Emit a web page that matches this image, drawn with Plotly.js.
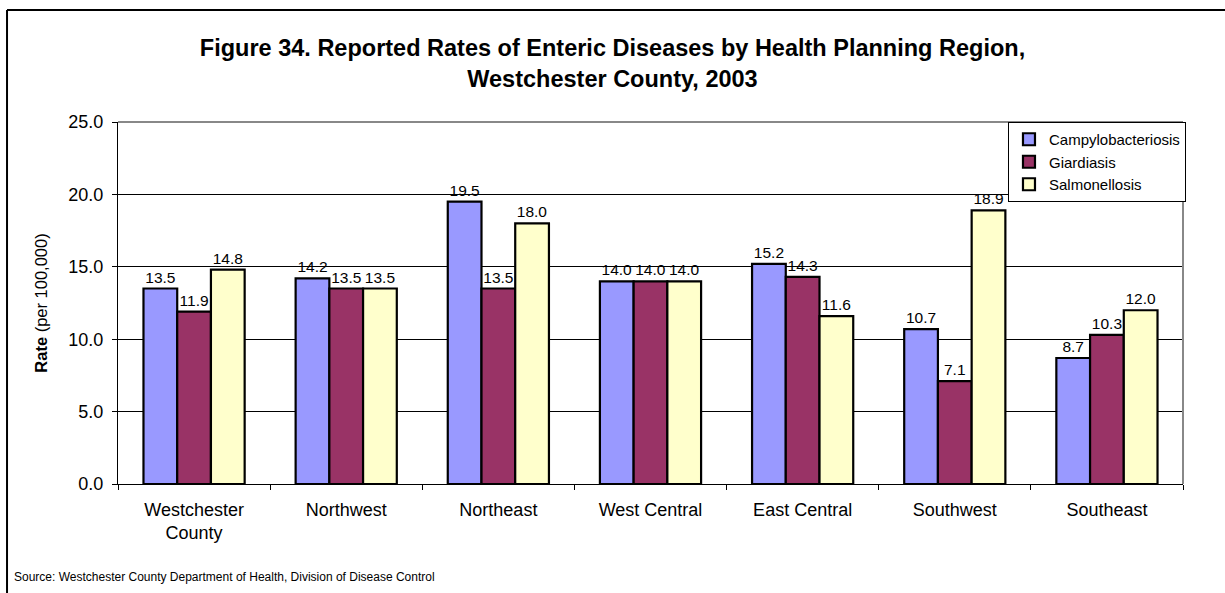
<!DOCTYPE html>
<html><head><meta charset="utf-8">
<script src="https://cdn.plot.ly/plotly-3.0.1.min.js"></script>
<style>html,body{margin:0;padding:0;background:#fff}</style>
</head><body>
<div id="chart" style="width:1225px;height:593px"></div>
<script>
const categories = ["Westchester<br>County","Northwest","Northeast","West Central","East Central","Southwest","Southeast"];
const campylobacteriosis = [13.5, 14.2, 19.5, 14.0, 15.2, 10.7, 8.7];
const giardiasis = [11.9, 13.5, 13.5, 14.0, 14.3, 7.1, 10.3];
const salmonellosis = [14.8, 13.5, 18.0, 14.0, 11.6, 18.9, 12.0];
const seriesNames = ["Campylobacteriosis","Giardiasis","Salmonellosis"];
const yTicks = [0,5,10,15,20,25];

const colors = ["#9999FF","#993366","#FFFFCC"];
const series = [campylobacteriosis, giardiasis, salmonellosis];
const traces = series.map((vals,i)=>({
  type:'bar', name:seriesNames[i], x:categories, y:vals,
  marker:{color:colors[i], line:{color:'#000', width:2.2}},
  text:vals.map(v=>v.toFixed(1)), textposition:'outside', cliponaxis:false, constraintext:'none',
  textfont:{family:'Arial, Liberation Sans, sans-serif', size:15.5, color:'#000'}
}));

const layout = {
  width:1225, height:593,
  margin:{l:118, r:42, t:122, b:109},
  paper_bgcolor:'#fff', plot_bgcolor:'#fff',
  font:{family:'Arial, Liberation Sans, sans-serif', color:'#000'},
  title:{text:'<b>Figure 34. Reported Rates of Enteric Diseases by Health Planning Region,<br>Westchester County, 2003</b>',
    x:0.5, xref:'container', xanchor:'center', y:0.905, yref:'container', yanchor:'top',
    font:{size:23.5, color:'#000'}},
  barmode:'group', bargap:0.335, bargroupgap:0,
  showlegend:true,
  legend:{x:1.0028, xanchor:'right', y:1.0, yanchor:'top', bordercolor:'#000', borderwidth:1,
    bgcolor:'#fff', font:{size:15}, tracegroupgap:0, itemwidth:30},
  xaxis:{showline:true, linecolor:'#000', linewidth:1, ticks:'outside', tickson:'boundaries',
    ticklen:5, tickcolor:'#000', tickfont:{size:18}, showgrid:false, ticklabelstandoff:9},
  yaxis:{range:[0,25], tickvals:yTicks, ticktext:yTicks.map(v=>v.toFixed(1)),
    showline:true, linecolor:'#000', linewidth:1, ticks:'outside', ticklen:5, tickcolor:'#000',
    showgrid:true, gridcolor:'#000', gridwidth:1, zeroline:false, tickfont:{size:18}, ticklabelstandoff:5,
    title:{text:'<b>Rate</b> (per 100,000)', font:{size:16.5}, standoff:16}},
  shapes:[
    {type:'line', xref:'paper', yref:'paper', x0:0, x1:1, y0:1, y1:1, line:{color:'#888', width:2}},
    {type:'line', xref:'paper', yref:'paper', x0:1, x1:1, y0:0, y1:1, line:{color:'#888', width:2}},
    {type:'line', xref:'paper', yref:'paper', x0:-0.1042, x1:-0.1042, y0:-0.31, y1:1.3094, line:{color:'#000', width:2}},
    {type:'line', xref:'paper', yref:'paper', x0:-0.1042, x1:1.05, y0:1.3094, y1:1.3094, line:{color:'#000', width:2}}
  ],
  annotations:[
    {text:'Source: Westchester County Department of Health, Division of Disease Control',
     xref:'paper', yref:'paper', x:-0.0995, y:-0.257, xanchor:'left', yanchor:'middle',
     showarrow:false, font:{size:12}}
  ]
};
Plotly.newPlot('chart', traces, layout, {displayModeBar:false, staticPlot:true});
</script>
</body></html>
